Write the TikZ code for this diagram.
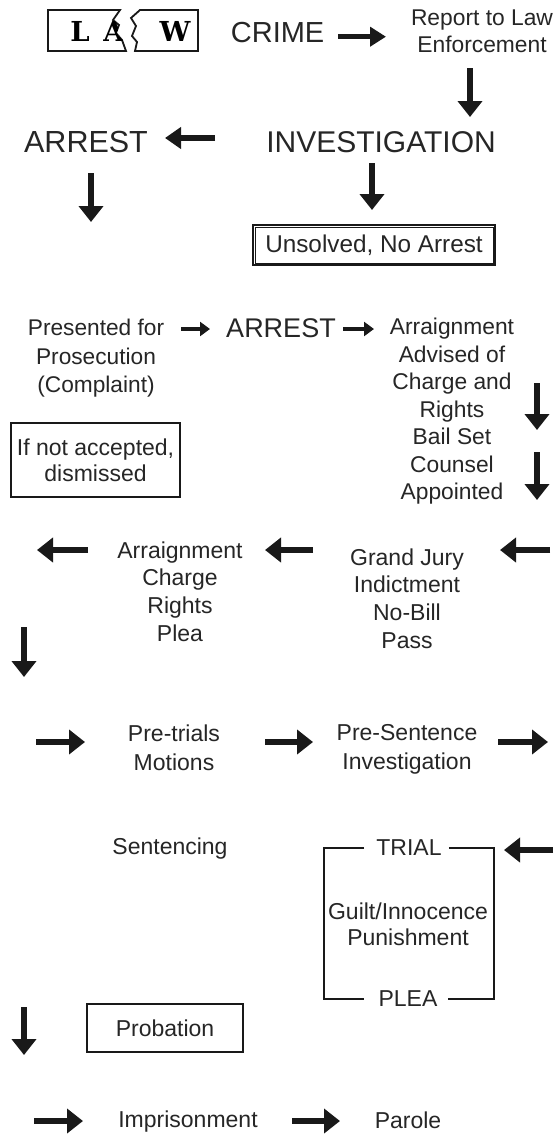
\documentclass[tikz,border=0pt]{standalone}
\usepackage{fontspec}
\setmainfont{Liberation Sans}
\newfontfamily\logofont{DejaVu Serif}
\usetikzlibrary{arrows.meta}
\begin{document}
\begin{tikzpicture}[x=1pt,y=-1pt,
  txt/.style={inner sep=0pt, align=center, text=black!85, font=\fontsize{23}{28}\selectfont},
  big/.style={inner sep=0pt, text=black!85, font=\fontsize{30}{36}\selectfont},
  logo/.style={inner sep=0pt, text=black, font=\logofont\bfseries\fontsize{27.5}{30}\selectfont},
  fat/.style={line width=5.5pt, -{Triangle[length=16pt,width=24pt]}, draw=black!90},
  slim/.style={line width=3.5pt, -{Triangle[length=10pt,width=14pt]}, draw=black!90},
  boxed/.style={draw=black!90, line width=2.2pt, inner sep=0pt, align=center, text=black!85, font=\fontsize{23}{26}\selectfont},
  bracket/.style={line width=2pt, draw=black!90}]
\useasboundingbox (0,0) rectangle (555,1135);
\fill[white] (0,0) rectangle (555,1135);

% ---- logo ----
\draw[line width=1.8pt, draw=black!90] (48,10) -- (120,10) -- (113,20) -- (119,25) -- (116,33) -- (122,40) -- (126,51) -- (48,51) -- cycle;
\draw[line width=1.8pt, draw=black!90] (140,10) -- (198,10) -- (198,51) -- (135,51) -- (137,42) -- (132,36) -- (136,26) -- (131,18) -- cycle;
\node[logo] (logoL) at (80,31.7) {L};
\begin{scope}
  \clip (48,10) -- (120,10) -- (113,20) -- (119,25) -- (116,33) -- (122,40) -- (126,51) -- (48,51) -- cycle;
  \node[logo] (logoA) at (114,31.7) {A};
\end{scope}
\node[logo] (logoW) at (175,31.7) {W};

% ---- top section ----
\node[big, font=\fontsize{29}{34}\selectfont] (crime) at (277.6,33) {CRIME};
\node[txt, font=\fontsize{22.8}{27}\selectfont] (report) at (482,31.5) {Report to Law\\Enforcement};
\node[big] (invest) at (381,142) {INVESTIGATION};
\node[big, font=\fontsize{30.5}{36}\selectfont] (arrestA) at (86,142) {ARREST};
\node[draw=black!90, line width=2pt, inner sep=0pt, minimum width=242pt, minimum height=40pt, text=black!85, font=\fontsize{24.3}{28}\selectfont] (unsolved) at (374,245) {Unsolved, No Arrest};
\draw[line width=0.8pt, draw=black!90] ([shift={(3pt,-3pt)}]unsolved.north west) rectangle ([shift={(-3pt,3pt)}]unsolved.south east);

\coordinate (a1s) at (338,36.7); \coordinate (a1e) at (386,36.7);
\coordinate (a2s) at (470,68);   \coordinate (a2e) at (470,117);
\coordinate (a3s) at (215,138);  \coordinate (a3e) at (165,138);
\coordinate (a4s) at (91,173);   \coordinate (a4e) at (91,222);
\coordinate (a5s) at (372,163);  \coordinate (a5e) at (372,210);
\draw[fat, -{Triangle[length=16pt,width=19pt]}] (a1s) -- (a1e);
\draw[fat] (a2s) -- (a2e);
\draw[fat, -{Triangle[length=16pt,width=21pt]}] (a3s) -- (a3e);
\draw[fat] (a4s) -- (a4e);
\draw[fat] (a5s) -- (a5e);

% ---- second section ----
\node[txt, font=\fontsize{22.7}{28.5}\selectfont] (presented) at (96,358.5) {Presented for\\Prosecution\\(Complaint)};
\node[big, font=\fontsize{27}{32}\selectfont] (arrestB) at (281,328) {ARREST};
\node[txt, font=\fontsize{22.8}{27.5}\selectfont] (arraignA) at (452,411.5) {Arraignment\\Advised of\\Charge and\\Rights\\Bail Set\\Counsel\\Appointed};
\node[boxed, minimum width=169pt, minimum height=74pt] (notacc) at (95.5,460) {If not accepted,\\dismissed};

\coordinate (a6s) at (181,329);  \coordinate (a6e) at (210,329);
\coordinate (a7s) at (343,329);  \coordinate (a7e) at (374,329);
\coordinate (a8s) at (537,383);  \coordinate (a8e) at (537,430);
\coordinate (a9s) at (537,452);  \coordinate (a9e) at (537,500);
\draw[slim] (a6s) -- (a6e);
\draw[slim] (a7s) -- (a7e);
\draw[fat] (a8s) -- (a8e);
\draw[fat] (a9s) -- (a9e);

% ---- third section ----
\node[txt, font=\fontsize{23}{27.7}\selectfont] (grand) at (407,598.5) {Grand Jury\\Indictment\\No-Bill\\Pass};
\node[txt, font=\fontsize{23}{27.7}\selectfont] (arraignB) at (180,591.5) {Arraignment\\Charge\\Rights\\Plea};
\coordinate (a10s) at (550,550); \coordinate (a10e) at (500,550);
\coordinate (a11s) at (313,550); \coordinate (a11e) at (265,550);
\coordinate (a12s) at (88,550);  \coordinate (a12e) at (37,550);
\coordinate (a13s) at (24,627);  \coordinate (a13e) at (24,677);
\draw[fat] (a10s) -- (a10e);
\draw[fat] (a11s) -- (a11e);
\draw[fat] (a12s) -- (a12e);
\draw[fat] (a13s) -- (a13e);

% ---- fourth section ----
\node[txt, font=\fontsize{23}{29}\selectfont] (pretrial) at (174,747.5) {Pre-trials\\Motions};
\node[txt, font=\fontsize{23}{29}\selectfont] (present) at (407,749.5) {Pre-Sentence\\Investigation};
\coordinate (a14s) at (36,742);  \coordinate (a14e) at (85,742);
\coordinate (a15s) at (265,742); \coordinate (a15e) at (313,742);
\coordinate (a16s) at (498,742); \coordinate (a16e) at (548,742);
\draw[fat] (a14s) -- (a14e);
\draw[fat] (a15s) -- (a15e);
\draw[fat] (a16s) -- (a16e);

% ---- trial section ----
\node[txt] (sentencing) at (170,849) {Sentencing};
\node[txt] (trial) at (409,848) {TRIAL};
\node[txt, font=\fontsize{23}{26}\selectfont] (guilt) at (408,924) {Guilt/Innocence\\Punishment};
\node[txt] (plea) at (408,999) {PLEA};
\coordinate (brL) at (324,924);
\coordinate (brR) at (494,924);
\draw[bracket] ([xshift=-12pt]trial.west) -| (brL) |- ([xshift=-14pt]plea.west);
\draw[bracket] ([xshift=7pt]trial.east) -| (brR) |- ([xshift=10pt]plea.east);
\coordinate (a17s) at (553,850); \coordinate (a17e) at (504,850);
\draw[fat] (a17s) -- (a17e);

% ---- bottom ----
\node[boxed, line width=2.4pt, minimum width=156pt, minimum height=48pt] (probation) at (165,1028) {Probation};
\coordinate (a18s) at (24,1007); \coordinate (a18e) at (24,1055);
\draw[fat] (a18s) -- (a18e);
\node[txt] (imprison) at (188,1122) {Imprisonment};
\node[txt] (parole) at (408,1120) {Parole};
\coordinate (a19s) at (34,1121);  \coordinate (a19e) at (83,1121);
\coordinate (a20s) at (292,1121); \coordinate (a20e) at (340,1121);
\draw[fat] (a19s) -- (a19e);
\draw[fat] (a20s) -- (a20e);
\end{tikzpicture}
\end{document}
